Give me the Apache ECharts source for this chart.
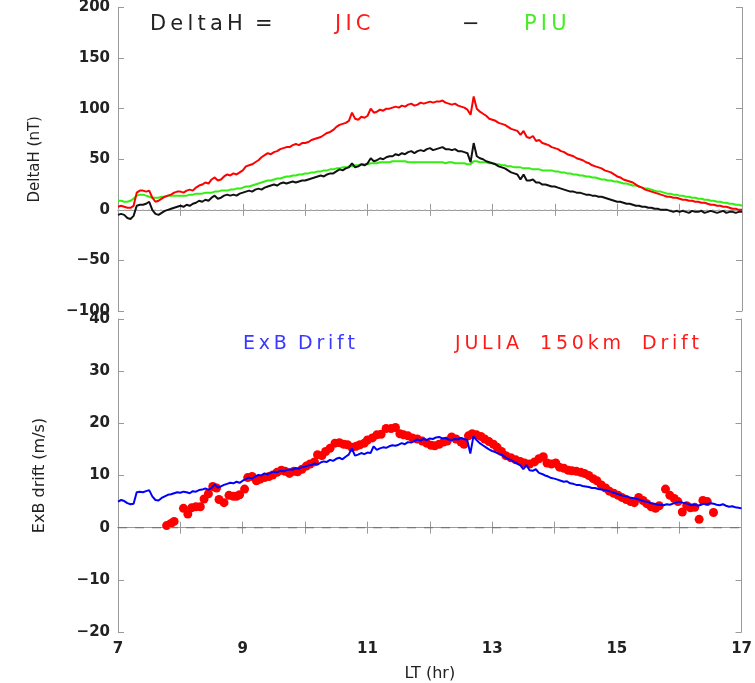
<!DOCTYPE html>
<html>
<head>
<meta charset="utf-8">
<script src="https://cdn.jsdelivr.net/npm/echarts@6/dist/echarts.min.js"></script>
<style>
  html, body { margin: 0; padding: 0; background: #fff; }
  #chart { width: 755px; height: 683px; }
</style>
</head>
<body>
<div id="chart"></div>
<script>
// top panel: samples every 0.05 hr from 7 LT to 17 LT
var tStart = 7, tStep = 0.05;

var jic = [
  3,4,3,2,2,4,17,19,19,18,19,12,8,9,11,13,14,15,17,18,
  18,17,19,20,19,22,24,25,27,26,30,32,29,30,33,35,34,36,35,37,
  39,43,44,45,47,49,52,54,56,55,57,58,60,61,62,62,64,65,64,66,
  66,67,69,70,71,72,74,76,77,79,82,84,85,86,88,96,90,89,92,91,
  93,100,96,97,99,98,100,100,101,102,101,103,102,104,105,103,104,106,105,106,
  107,106,107,107,108,106,105,104,105,103,102,101,99,94,112,100,97,95,93,90,
  89,88,86,85,84,82,80,79,78,74,78,72,71,73,68,69,66,65,64,62,
  61,60,58,57,55,54,53,51,50,49,47,46,44,43,42,41,39,38,37,35,
  33,32,30,29,28,27,25,23,22,20,19,18,17,16,15,14,13,13,12,12,
  11,10,10,9,9,8,8,7,7,6,5,5,4,4,3,3,2,1,1,0,
  0
];

var piu = [
  9,9,8,8,9,11,14,15,15,14,13,12,12,12,13,13,14,14,14,14,
  14,14,14,15,15,16,16,16,17,17,17,18,18,19,19,19,20,20,21,21,
  22,23,23,24,25,26,27,28,29,29,30,31,31,32,33,33,34,34,35,35,
  36,36,37,37,38,38,39,39,40,40,41,41,42,42,43,43,44,44,45,45,
  45,46,46,46,47,47,47,47,48,48,48,48,48,47,47,47,47,47,47,47,
  47,47,47,47,47,46,47,47,46,46,46,46,45,45,48,48,47,47,47,46,
  46,45,45,44,44,43,43,42,42,42,41,41,41,40,40,40,39,39,39,39,
  38,38,37,37,36,36,35,35,34,34,33,33,32,32,31,30,30,29,29,28,
  28,27,26,26,25,24,24,23,22,21,21,20,19,18,18,17,16,16,15,15,
  14,14,13,13,12,12,11,11,10,10,9,9,8,8,7,7,6,6,5,5,
  4
];

var deltaH = [
  -5,-4,-5,-8,-9,-6,4,5,5,6,8,0,-4,-5,-3,-1,0,1,2,3,
  4,3,5,4,6,7,9,8,10,9,12,14,11,12,14,15,14,15,14,16,
  17,18,19,18,20,21,20,22,23,24,25,24,26,27,26,27,28,27,28,29,
  29,30,31,32,33,34,33,35,36,36,38,40,39,41,42,46,42,43,45,44,
  46,51,48,49,51,50,52,53,53,55,54,56,55,57,58,56,58,59,58,60,
  61,59,60,61,62,60,60,59,60,58,58,57,56,47,66,53,51,50,48,47,
  46,45,43,42,41,39,37,36,35,30,35,29,29,30,27,27,25,25,24,23,
  23,22,21,20,19,18,18,17,17,16,15,15,14,14,13,13,12,11,10,9,
  8,8,7,6,6,5,4,4,3,3,2,2,1,1,0,0,0,-1,-2,-1,
  -2,-1,-2,-3,-1,-2,-2,-1,-3,-2,-1,-2,-3,-2,-1,-3,-2,-2,-3,-2,
  -2
];

// bottom panel: ExB drift, same 0.05 hr sampling
var exb = [
  5.0,5.3,5.1,4.7,4.5,4.6,6.8,6.9,6.8,7.0,7.2,6.0,5.3,5.2,5.7,6.0,6.3,6.4,6.6,6.8,
  6.7,6.9,6.8,6.6,7.0,6.9,7.2,7.3,7.5,7.3,7.6,8.3,7.7,7.9,8.2,8.4,8.6,8.5,8.8,8.6,
  9.0,9.3,9.6,9.4,9.8,10.1,10.0,10.4,10.2,10.5,10.7,10.6,10.9,10.8,11.0,11.2,11.1,11.4,11.3,11.6,
  11.7,11.9,12.0,12.3,12.1,12.5,12.7,12.6,13.0,12.8,13.2,13.4,13.1,13.6,14.0,15.2,13.8,14.0,14.3,14.1,
  14.4,14.3,15.6,14.9,15.2,15.4,15.3,15.6,15.8,15.7,15.9,16.2,16.0,16.4,16.3,16.6,16.9,16.7,17.0,16.8,
  17.1,17.0,17.3,17.4,17.1,17.2,16.9,16.8,17.0,16.9,17.2,17.0,16.8,14.2,17.5,16.8,16.2,15.8,15.4,15.0,
  14.7,14.5,14.2,14.0,13.6,13.2,13.0,12.6,12.3,12.0,11.2,12.0,11.0,10.9,11.2,10.5,10.3,10.0,9.8,9.5,
  9.4,9.2,9.0,8.8,8.9,8.5,8.4,8.2,8.2,8.0,7.9,7.8,7.6,7.6,7.4,7.3,7.2,7.1,6.9,6.7,
  6.5,6.3,6.1,6.0,5.8,5.7,5.6,5.4,5.2,5.0,4.9,4.7,4.6,4.4,4.4,4.3,4.5,4.4,4.6,4.8,
  5.0,4.8,4.7,4.5,4.3,4.4,4.2,4.4,4.6,4.5,4.7,4.6,4.4,4.3,4.5,4.2,4.0,4.1,3.9,3.8,
  3.7
];

// JULIA 150 km echoes
var juliaTime = [
  7.78,7.85,7.90,8.05,8.12,8.18,8.25,8.32,8.38,8.45,8.52,8.58,8.62,8.70,8.78,8.85,8.90,8.95,
  9.03,9.08,9.15,9.22,9.28,9.35,9.42,9.48,9.55,9.62,9.68,9.75,9.82,9.88,9.95,
  10.02,10.08,10.15,10.20,10.27,10.33,10.40,10.48,10.55,10.62,10.68,10.75,10.82,10.88,10.95,
  11.00,11.08,11.15,11.22,11.30,11.38,11.45,11.52,11.58,11.65,11.72,11.80,11.88,11.95,
  12.02,12.08,12.15,12.22,12.28,12.35,12.42,12.50,12.55,12.62,12.68,12.75,12.82,12.88,12.95,
  13.02,13.08,13.15,13.22,13.30,13.38,13.45,13.52,13.60,13.68,13.75,13.82,13.88,13.95,
  14.02,14.08,14.15,14.22,14.28,14.35,14.42,14.48,14.55,14.62,14.68,14.75,14.82,14.88,14.95,
  15.02,15.08,15.15,15.22,15.28,15.35,15.42,15.48,15.55,15.62,15.68,15.78,15.85,15.92,15.98,
  16.05,16.12,16.18,16.25,16.32,16.38,16.45,16.55
];
var juliaDrift = [
  0.4,0.8,1.2,3.7,2.6,3.8,4.0,4.0,5.5,6.5,7.9,7.6,5.4,4.8,6.2,6.0,6.0,6.3,
  7.4,9.6,9.8,9.0,9.3,9.6,9.8,10.1,10.6,11.0,10.8,10.4,10.8,10.7,11.2,
  11.8,12.2,12.6,14.0,13.8,14.6,15.2,16.2,16.3,16.0,15.9,15.4,15.6,15.9,16.2,
  16.8,17.2,17.8,17.9,19.0,19.0,19.2,18.0,17.8,17.6,17.2,17.0,16.6,16.2,
  15.8,15.7,16.0,16.4,16.6,17.4,17.0,16.4,16.0,17.6,18.0,17.8,17.5,17.0,16.5,
  16.0,15.4,14.6,13.8,13.4,13.0,12.7,12.4,12.2,12.6,13.2,13.6,12.4,12.2,
  12.4,11.6,11.4,11.0,10.9,10.8,10.6,10.4,10.0,9.4,9.0,8.2,7.6,7.0,6.6,
  6.2,5.8,5.4,5.0,4.8,5.8,5.2,4.6,4.0,3.7,4.2,7.4,6.2,5.6,5.0,
  3.0,4.2,3.8,3.9,1.6,5.2,5.0,2.9
];

var hourTicks = [7, 9, 11, 13, 15, 17];
var ltRange = [7, 17];

function sampled(vals) {
  return vals.map(function (v, i) { return [+(tStart + i * tStep).toFixed(2), v]; });
}
function paired(ts, vs) {
  return ts.map(function (t, i) { return [t, vs[i]]; });
}
// IDL style wide lettering: thin spaces between glyphs
function spaced(s) {
  return s.split('').join('\u2009');
}

var axisGray = '#9a9a9a';
var labelFont = { color: '#222', fontSize: 15, fontWeight: 'bold', fontFamily: 'DejaVu Sans' };
function minus(v) { return String(v).replace('-', '\u2212'); }

function xAxisFor(grid, pos, labels) {
  return {
    type: 'value', gridIndex: grid, position: pos, min: 7, max: 17, interval: 1,
    axisLine: { show: true, lineStyle: { color: axisGray } },
    axisTick: { show: true, inside: true, length: 6, lineStyle: { color: axisGray } },
    splitLine: { show: false },
    axisLabel: labels ? Object.assign({
      margin: 10,
      formatter: function (v) { return hourTicks.indexOf(v) >= 0 ? String(v) : ''; }
    }, labelFont) : { show: false }
  };
}
function yAxisFor(grid, pos, min, max, step, labels, name, gap, nameSize) {
  return {
    type: 'value', gridIndex: grid, position: pos, min: min, max: max, interval: step,
    name: name || '', nameLocation: 'middle', nameGap: gap || 0,
    nameTextStyle: { color: '#222', fontSize: nameSize || 14, fontFamily: 'DejaVu Sans' },
    axisLine: { show: true, lineStyle: { color: axisGray } },
    axisTick: { show: true, inside: true, length: 6, lineStyle: { color: axisGray } },
    splitLine: { show: false },
    axisLabel: labels ? Object.assign({ margin: 8, formatter: minus }, labelFont) : { show: false }
  };
}
function note(x, y, txt, color, size) {
  return {
    type: 'text', x: x, y: y,
    style: { text: txt, fill: color, fontSize: size, fontFamily: 'DejaVu Sans', textVerticalAlign: 'middle' }
  };
}

var chart = echarts.init(document.getElementById('chart'));
chart.setOption({
  animation: false,
  backgroundColor: '#fff',
  grid: [
    { left: 118, right: 13, top: 1, height: 310 },
    { left: 118, right: 13, top: 319, height: 317 }
  ],
  xAxis: [
    xAxisFor(0, 'bottom', false),
    xAxisFor(0, 'top', false),
    Object.assign(xAxisFor(1, 'bottom', true), {
      name: 'LT (hr)', nameLocation: 'middle', nameGap: 34,
      nameTextStyle: { color: '#222', fontSize: 16, fontFamily: 'DejaVu Sans' }
    }),
    xAxisFor(1, 'top', false)
  ],
  yAxis: [
    yAxisFor(0, 'left', -100, 200, 50, true, 'DeltaH (nT)', 75, 15),
    yAxisFor(0, 'right', -100, 200, 50, false),
    yAxisFor(1, 'left', -20, 40, 10, true, 'ExB drift (m/s)', 70, 16),
    yAxisFor(1, 'right', -20, 40, 10, false)
  ],
  graphic: [
    note(150, 25, spaced('DeltaH'), '#222', 21),
    note(255, 25, '=', '#222', 21),
    note(335, 25, spaced('JIC'), '#ff1a1a', 21),
    note(462, 25, '\u2212', '#222', 21),
    note(524, 25, spaced('PIU'), '#44ee22', 21),
    note(243, 344, spaced('ExB'), '#3a3aff', 19),
    note(298, 344, spaced('Drift'), '#3a3aff', 19),
    note(455, 344, spaced('JULIA'), '#ff1a1a', 19),
    note(540, 344, spaced('150km'), '#ff1a1a', 19),
    note(642, 344, spaced('Drift'), '#ff1a1a', 19)
  ],
  series: [
    {
      name: 'zero top', type: 'line', xAxisIndex: 0, yAxisIndex: 0, silent: true,
      data: ltRange.map(function (t) { return [t, 0]; }), showSymbol: false,
      lineStyle: { color: '#c8c8c8', type: [2, 4], width: 1 }
    },
    { name: 'PIU', type: 'line', xAxisIndex: 0, yAxisIndex: 0, data: sampled(piu), showSymbol: false, lineStyle: { color: '#33ee11', width: 2 } },
    { name: 'JIC', type: 'line', xAxisIndex: 0, yAxisIndex: 0, data: sampled(jic), showSymbol: false, lineStyle: { color: '#ff0000', width: 2 } },
    { name: 'DeltaH', type: 'line', xAxisIndex: 0, yAxisIndex: 0, data: sampled(deltaH), showSymbol: false, lineStyle: { color: '#111', width: 2 } },
    {
      name: 'zero bottom', type: 'line', xAxisIndex: 2, yAxisIndex: 2, silent: true,
      data: ltRange.map(function (t) { return [t, 0]; }), showSymbol: false,
      lineStyle: { color: '#777', type: [9, 8], width: 1.3 }
    },
    { name: 'ExB Drift', type: 'line', xAxisIndex: 2, yAxisIndex: 2, data: sampled(exb), showSymbol: false, lineStyle: { color: '#0000ff', width: 2 } },
    {
      name: 'JULIA 150km Drift', type: 'scatter', xAxisIndex: 2, yAxisIndex: 2,
      data: paired(juliaTime, juliaDrift), symbolSize: 9,
      itemStyle: { color: '#ff0000', opacity: 1 }
    }
  ]
});
</script>
</body>
</html>
